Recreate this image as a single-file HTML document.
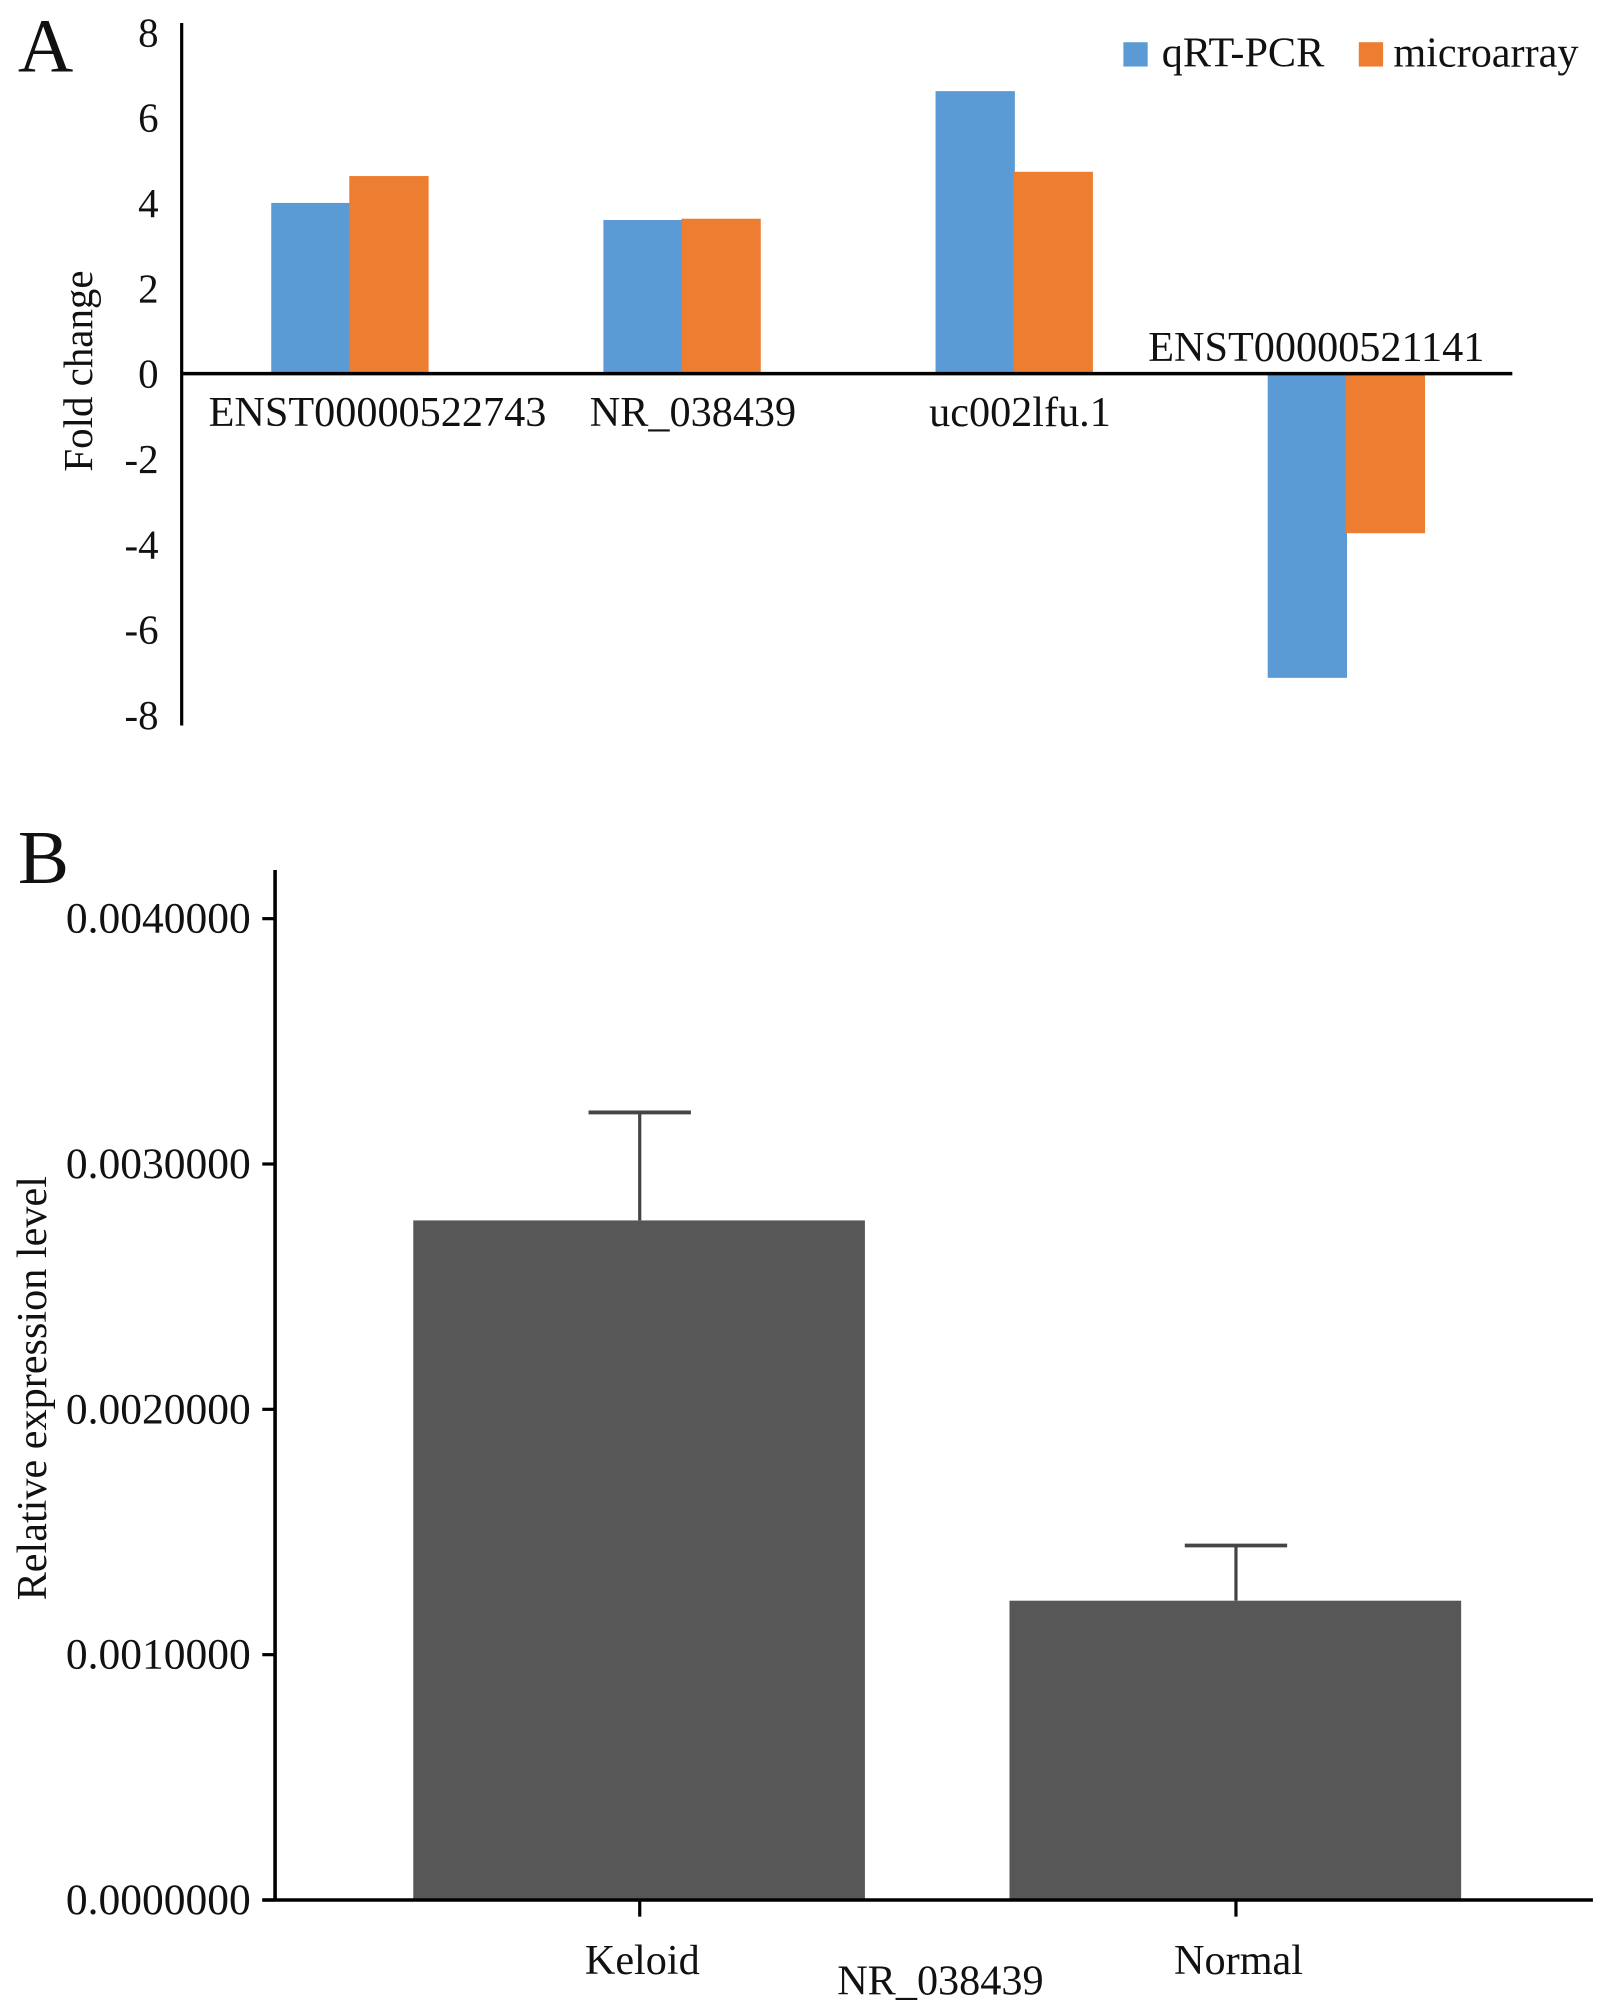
<!DOCTYPE html>
<html><head><meta charset="utf-8"><style>
html,body{margin:0;padding:0;background:#fff}
svg{display:block}
text{font-family:"Liberation Serif",serif;fill:#111}
</style></head><body>
<svg id="s" width="1607" height="2008" viewBox="0 0 1256 1569.4" xmlns="http://www.w3.org/2000/svg">
<g id="A"></g>
<g id="B"></g>
</svg>
<script>
const catsA = ["ENST00000522743","NR_038439","uc002lfu.1","ENST00000521141"];
const qpcr = [4.0, 3.6, 6.62, -7.13];
const micro = [4.63, 3.63, 4.73, -3.74];
const ticksA = [8,6,4,2,0,-2,-4,-6,-8];
const catsB = ["Keloid","Normal"];
const meansB = [0.00277, 0.00122];
const errB = [0.00044, 0.000225];
const ticksB = [0, 0.001, 0.002, 0.003, 0.004];
const tickLabelsB = ["0.0000000","0.0010000","0.0020000","0.0030000","0.0040000"];

const NS="http://www.w3.org/2000/svg";
function mk(parent,tag,attrs,txt){const e=document.createElementNS(NS,tag);for(const k in attrs)e.setAttribute(k,attrs[k]);if(txt!==undefined)e.textContent=txt;parent.appendChild(e);return e;}

// Panel A
const A=document.getElementById('A');
const yA=v=>292-v*33.35;
const xA=i=>273+i*259.6;
let t=mk(A,'text',{x:14,y:56,'font-size':60});t.textContent='A';


ticksA.forEach(v=>{const e=mk(A,'text',{x:124,y:yA(v)+11,'font-size':32,'text-anchor':'end'},String(v));

});
t=mk(A,'text',{transform:'translate(72,290) rotate(-90)','font-size':32,'text-anchor':'middle'},'Fold change');


catsA.forEach((c,i)=>{
 const cx=xA(i);
 let b=mk(A,'rect',{x:cx-61,y:Math.min(yA(qpcr[i]),yA(0)),width:62,height:Math.abs(yA(qpcr[i])-yA(0)),fill:'#5b9bd5'});
 
 
 b=mk(A,'rect',{x:cx,y:Math.min(yA(micro[i]),yA(0)),width:62,height:Math.abs(yA(micro[i])-yA(0)),fill:'#ed7d31'});
 
 
});
let ax=mk(A,'line',{x1:142,y1:18,x2:142,y2:567,stroke:'#000','stroke-width':2.5});


ax=mk(A,'line',{x1:142,y1:yA(0),x2:1182,y2:yA(0),stroke:'#000','stroke-width':2.8});


catsA.forEach((c,i)=>{
 const neg=qpcr[i]<0;
 const e=mk(A,'text',{x:xA(i)+(i==0?22:i==3?-23:i==1?9:5),y:neg?yA(0)-10:yA(0)+41,'font-size':33,'text-anchor':'middle'},c);
 
 
});
let lg=mk(A,'g',{});


mk(lg,'rect',{x:878,y:33,width:19,height:19,fill:'#5b9bd5'});
mk(lg,'text',{x:908,y:52,'font-size':33},'qRT-PCR');
mk(lg,'rect',{x:1062,y:33,width:19,height:19,fill:'#ed7d31'});
mk(lg,'text',{x:1089,y:52,'font-size':33},'microarray');

// Panel B
const B=document.getElementById('B');
const yB=v=>1485-v*191750;
const xB=i=>500+i*466;
t=mk(B,'text',{x:14,y:690,'font-size':60},'B');


ticksB.forEach((v,i)=>{
 const l=mk(B,'line',{x1:205,y1:yB(v),x2:215,y2:yB(v),stroke:'#000','stroke-width':2.5});
 
 
 const e=mk(B,'text',{x:196,y:yB(v)+11,'font-size':34,'text-anchor':'end'},tickLabelsB[i]);
 
 
});
t=mk(B,'text',{transform:'translate(36,1085) rotate(-90)','font-size':33,'text-anchor':'middle'},'Relative expression level');


catsB.forEach((c,i)=>{
 const cx=xB(i);
 const top=yB(meansB[i]+errB[i]);
 let e=mk(B,'line',{x1:cx,y1:yB(meansB[i]),x2:cx,y2:top,stroke:'#444','stroke-width':2.5});
 
 
 e=mk(B,'line',{x1:cx-40,y1:top,x2:cx+40,y2:top,stroke:'#444','stroke-width':3});
 
 
 e=mk(B,'rect',{x:cx-177,y:yB(meansB[i]),width:353,height:yB(0)-yB(meansB[i]),fill:'#575757'});
 
 
 e=mk(B,'line',{x1:cx,y1:1485,x2:cx,y2:1498,stroke:'#000','stroke-width':2.5});
 
 
 e=mk(B,'text',{x:cx+2,y:1543,'font-size':33,'text-anchor':'middle'},c);
 
 
});
ax=mk(B,'line',{x1:215,y1:680,x2:215,y2:1486,stroke:'#000','stroke-width':2.8});


ax=mk(B,'line',{x1:205,y1:1485,x2:1245,y2:1485,stroke:'#000','stroke-width':2.8});


t=mk(B,'text',{x:735,y:1559,'font-size':33,'text-anchor':'middle'},'NR_038439');


</script>
</body></html>
